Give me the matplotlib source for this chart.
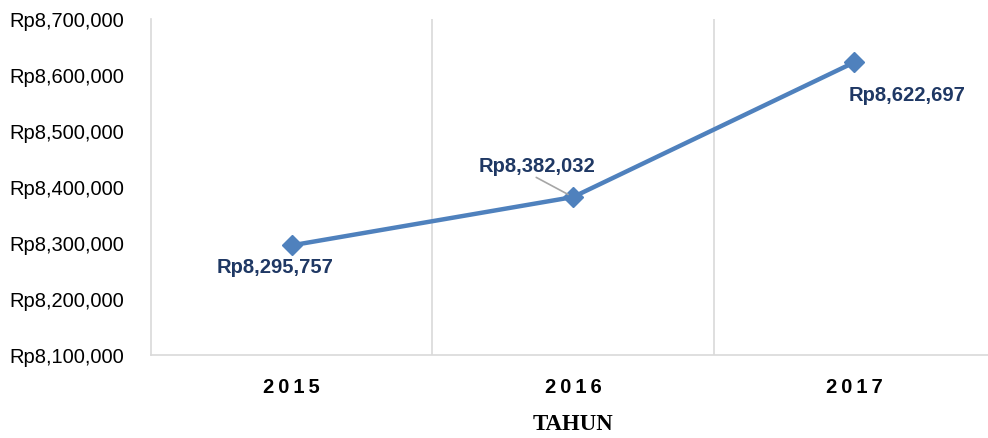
import matplotlib.pyplot as plt
from matplotlib.ticker import FuncFormatter

# Data
years = ['2015', '2016', '2017']
values = [8295757, 8382032, 8622697]
y_ticks = [8100000, 8200000, 8300000, 8400000, 8500000, 8600000, 8700000]

fig = plt.figure(figsize=(9.88, 4.39), dpi=100)
ax = fig.add_axes([151 / 988, 83 / 439, 844 / 988, 336 / 439])

x = list(range(len(years)))
ax.plot(x, values, color='#4F81BD', linewidth=3.2, marker='D', markersize=10,
        markerfacecolor='#4F81BD', markeredgecolor='#4F81BD', zorder=3)

ax.set_xlim(-0.5, 2.5)
ax.set_ylim(y_ticks[0], y_ticks[-1])
ax.set_yticks(y_ticks)
ax.yaxis.set_major_formatter(FuncFormatter(lambda v, p: 'Rp{:,.0f}'.format(v)))
ax.set_xticks(x)
ax.set_xticklabels(['\u2009'.join(y) for y in years], fontsize=14.5, fontweight='bold',
                   family=['Liberation Sans', 'DejaVu Sans'])
for lab in ax.get_yticklabels():
    lab.set_family('Liberation Sans')
    lab.set_fontsize(14.5)
ax.tick_params(axis='both', length=0)
ax.tick_params(axis='x', pad=16)
ax.tick_params(axis='y', pad=19)

# vertical separators between categories
for xv in [0.5, 1.5]:
    ax.axvline(xv, color='#D9D9D9', linewidth=1.2, zorder=1)

for s in ['top', 'right']:
    ax.spines[s].set_visible(False)
for s in ['left', 'bottom']:
    ax.spines[s].set_color('#D9D9D9')
    ax.spines[s].set_linewidth(1.2)

# data labels
lab_color = '#1F3864'
lab_kw = dict(color=lab_color, fontsize=14.5, fontweight='bold', family='Liberation Sans')
ax.annotate('Rp{:,}'.format(values[0]), (x[0], values[0]), xytext=(-12, -15),
            textcoords='offset points', ha='center', va='center', **lab_kw)
ax.annotate('Rp{:,}'.format(values[1]), (x[1], values[1]), xytext=(-26, 23),
            textcoords='offset points', ha='center', va='center',
            arrowprops=dict(arrowstyle='-', color='#A6A6A6', lw=1.2,
                            shrinkA=0, shrinkB=4, relpos=(0.45, 0.0)), **lab_kw)
ax.annotate('Rp{:,}'.format(values[2]), (x[2], values[2]), xytext=(38, -23),
            textcoords='offset points', ha='center', va='center', **lab_kw)

ax.set_xlabel('TAHUN', family='Liberation Serif', fontweight='bold', fontsize=16.5, labelpad=12)

fig.savefig('out.png', dpi=100)
